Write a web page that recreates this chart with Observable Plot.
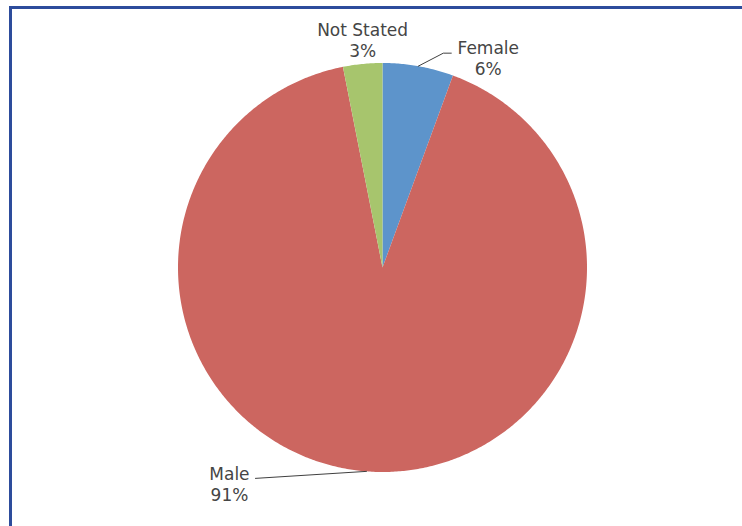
<!DOCTYPE html>
<html>
<head>
<meta charset="utf-8">
<script src="https://cdn.jsdelivr.net/npm/d3@7"></script>
<script src="https://cdn.jsdelivr.net/npm/@observablehq/plot@0.6"></script>
<style>
  html, body { margin: 0; padding: 0; background: #fff; overflow: hidden; }
  #wrap { position: relative; width: 742px; height: 526px; }
  #frame { position: absolute; left: 9px; top: 6px; width: 760px; height: 560px;
           border-left: 3px solid #2d4c9c; border-top: 3px solid #2d4c9c; pointer-events: none; }
</style>
</head>
<body>
<div id="wrap"><div id="frame"></div></div>
<script>
// ---- data ----
const categories = ["Female", "Male", "Not Stated"];
const values = [5.6, 91.3, 3.1];
const pctLabels = ["6%", "91%", "3%"];
const colors = ["#5d94cb", "#cc6660", "#a7c56d"];

// ---- layout ----
const W = 742, H = 526;
const cx = 382, cy = 267, R = 204.5;
// label offsets (pixels) from slice's outer midpoint
const labelDx = [70, -137, 0];
const labelDy = [-8.5, 12, -24];
// leader line bends (pixels relative to outer midpoint), empty = no leader
const leaders = [
  [[0, 0], [25, -13], [33, -13]],
  [[0, 0], [-111, 7]],
  []
];

const pie = d3.pie().sort(null).value(d => d)(values);
const rows = [];
const mids = [];
pie.forEach((p, i) => {
  const cat = categories[i];
  rows.push({cat, x: 0, y: 0});
  const steps = Math.max(2, Math.ceil((p.endAngle - p.startAngle) / (Math.PI / 360)));
  for (let k = 0; k <= steps; k++) {
    const a = p.startAngle + (p.endAngle - p.startAngle) * k / steps;
    rows.push({cat, x: Math.sin(a), y: Math.cos(a)});
  }
  rows.push({cat, x: 0, y: 0});
  const m = (p.startAngle + p.endAngle) / 2;
  mids.push({cat, x: Math.sin(m), y: Math.cos(m), label: cat + "\n" + pctLabels[i], i});
});

const leaderRows = [];
leaders.forEach((pts, i) => {
  pts.forEach(([dx, dy]) => leaderRows.push({
    cat: categories[i],
    x: mids[i].x + dx / R,
    y: mids[i].y - dy / R
  }));
});

const chart = Plot.plot({
  width: W,
  height: H,
  margin: 0,
  x: {domain: [-cx / R, (W - cx) / R], axis: null},
  y: {domain: [-(H - cy) / R, cy / R], axis: null},
  color: {domain: categories, range: colors},
  style: {background: "transparent"},
  marks: [
    Plot.line(rows, {x: "x", y: "y", z: "cat", fill: "cat", stroke: "none", curve: "linear"}),
    Plot.line(leaderRows, {x: "x", y: "y", z: "cat", stroke: "#404040", strokeWidth: 1, fill: "none"}),
    ...mids.map(m => Plot.text([m], {
      x: "x", y: "y", text: "label",
      dx: labelDx[m.i], dy: labelDy[m.i],
      textAnchor: "middle", lineAnchor: "middle", lineHeight: 1.25,
      fontSize: 17, fontFamily: "DejaVu Sans", fill: "#454545"
    }))
  ]
});
chart.style.position = "absolute";
chart.style.left = "0px";
chart.style.top = "0px";
document.getElementById("wrap").prepend(chart);
</script>
</body>
</html>
